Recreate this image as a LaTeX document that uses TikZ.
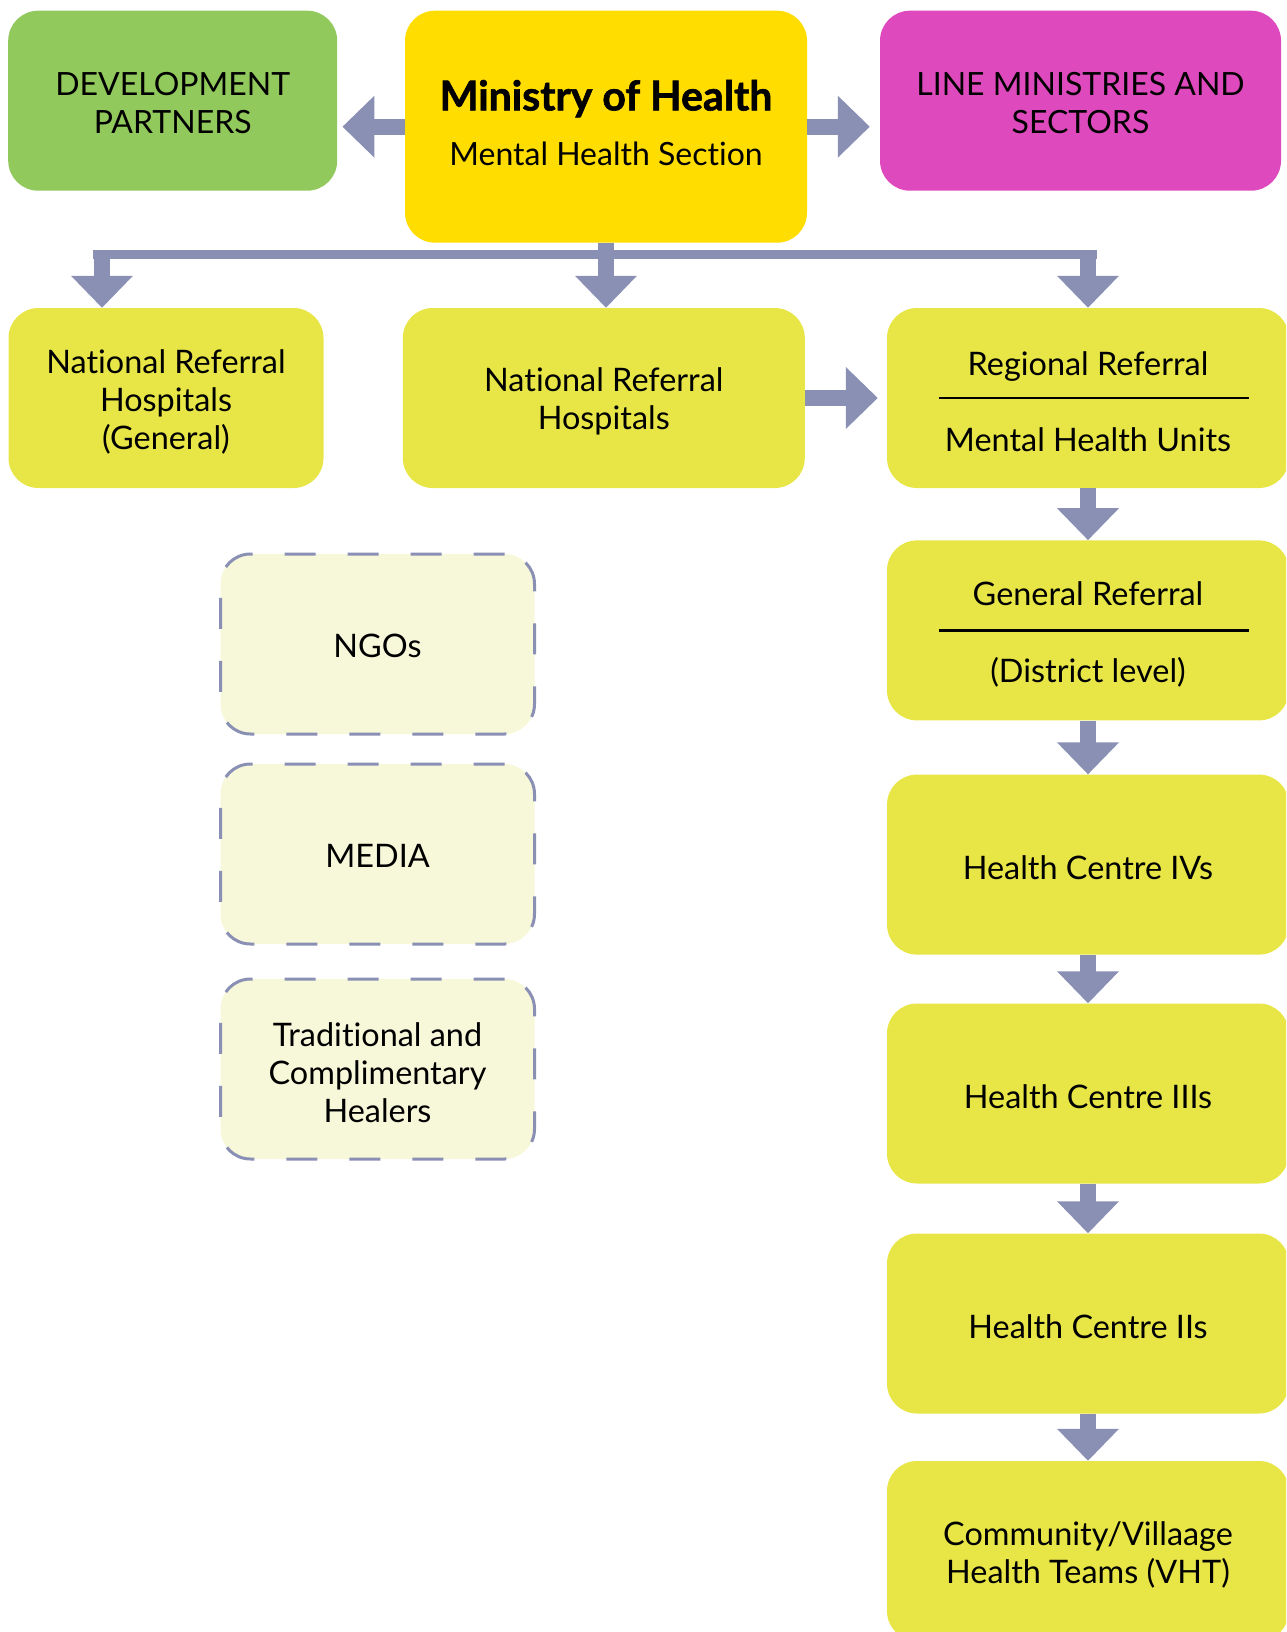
\documentclass[tikz,border=0pt]{standalone}
\usepackage{fontspec}
\setmainfont{Lato}[Ligatures=CommonOff]
\usetikzlibrary{arrows.meta}

\definecolor{linkgray}{RGB}{138,143,180}
\definecolor{partnergreen}{RGB}{146,201,92}
\definecolor{mohyellow}{RGB}{255,221,0}
\definecolor{sectormagenta}{RGB}{222,74,189}
\definecolor{levellime}{RGB}{232,230,70}
\definecolor{otherfill}{RGB}{247,248,218}

\newcommand\lift{\rule{0pt}{31pt}}
\newcommand\capslift{\rule{0pt}{27pt}}

\tikzset{
  box/.style={rounded corners=30pt, minimum height=180pt, inner sep=0pt, align=center,
    font=\fontsize{32.4}{38}\selectfont},
  level/.style={box, fill=levellime, minimum width=402pt},
  other/.style={box, fill=otherfill, draw=linkgray, line width=3pt,
    dash pattern=on 31pt off 32pt, minimum width=314pt},
  link/.style={draw=linkgray, line width=16pt, -{Triangle[length=32pt,width=60pt]}}
}

\begin{document}
\begin{tikzpicture}[x=1pt, y=-1pt]
\useasboundingbox (0,0) rectangle (1286,1632);
\clip (0,0) rectangle (1286,1632);

% top row
\node [box, fill=partnergreen, minimum width=329pt, font=\fontsize{32}{38}\selectfont]
  (partners) at (172.7,100.7) {\capslift DEVELOPMENT\\PARTNERS};
\node [box, fill=mohyellow, minimum width=402pt, minimum height=232pt]
  (moh) at (606,126.7) {{\fontsize{41}{47}\selectfont\bfseries\addfontfeatures{FakeBold=1.5}Ministry of Health}\\[17pt]{\fontsize{32}{38}\selectfont Mental Health Section}\rule[-8pt]{0pt}{0pt}};
\node [box, fill=sectormagenta, minimum width=401pt, font=\fontsize{32}{38}\selectfont]
  (sectors) at (1080.5,100.7) {\capslift LINE MINISTRIES AND\\SECTORS};

\draw [link, shorten >=5pt] (moh.west) -- (partners.east |- moh.west);
\draw [link, shorten >=10pt] (moh.east) -- (sectors.west |- moh.east);

% second row
\node [level, minimum width=315pt] (general) at (166,398) {\lift National Referral\\Hospitals\\(General)};
\node [level] (national) at (603.8,398) {\lift National Referral\\Hospitals};
\node [level] (regional) at (1088,398) {\lift Regional Referral\\[38pt]Mental Health Units};
\draw [line width=2.5pt] ([xshift=-149pt]regional.center) -- ([xshift=161pt]regional.center);

\draw [link, shorten >=9pt] (national) -- (regional);

% branches from the ministry
\coordinate (busL) at (93,254.5);
\coordinate (busR) at (1096.5,254.5);
\coordinate (dropL) at (102,250);
\coordinate (dropR) at (1088,250);
\draw [linkgray, line width=9pt] (busL) -- (busR);
\draw [link] (dropL) -- (dropL |- general.north);
\draw [link] (moh.south) -- (moh.south |- national.north);
\draw [link] (dropR) -- (regional.north);

% referral chain
\node [level] (district) at (1088,630.4) {\lift General Referral\\[39pt](District level)};
\draw [line width=2.5pt] ([xshift=-149pt]district.center) -- ([xshift=161pt]district.center);
\node [level] (hc4) at (1088,864.6) {\lift Health Centre IVs};
\node [level] (hc3) at (1088,1093.5) {\lift Health Centre IIIs};
\node [level] (hc2) at (1088,1323.5) {\lift Health Centre IIs};
\node [level] (vht) at (1088,1551) {\lift Community/Villaage\\Health Teams (VHT)};

\foreach \a/\b in {regional/district, district/hc4, hc4/hc3, hc3/hc2, hc2/vht}
  \draw [link] (\a) -- (\b);

% other actors
\node [other] (ngos) at (377.5,644) {\capslift NGOs};
\node [other] (media) at (377.5,854) {\capslift MEDIA};
\node [other] (healers) at (377.5,1069) {\lift Traditional and\\Complimentary\\Healers};

\end{tikzpicture}
\end{document}
